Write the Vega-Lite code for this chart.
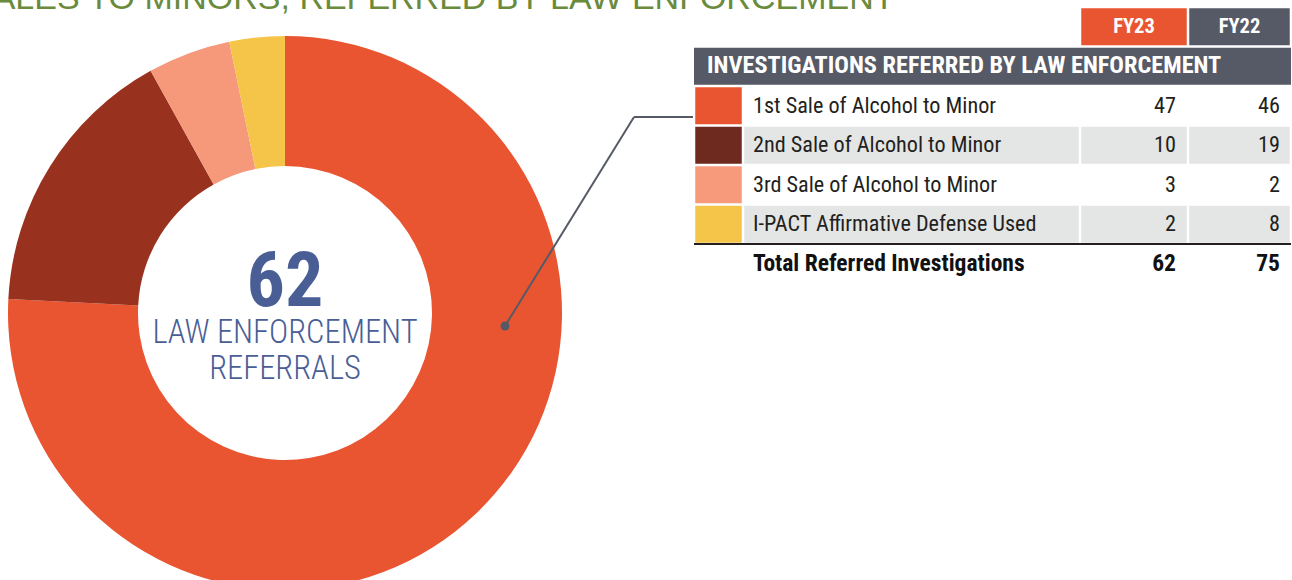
{
  "$schema": "https://vega.github.io/schema/vega-lite/v6.json",
  "padding": {"top": -19, "left": -30, "right": 1, "bottom": -38},
  "background": "white",
  "config": {"view": {"stroke": null}},
  "datasets": {
    "referrals": [
      {"category": "1st Sale of Alcohol to Minor", "fy23": 47, "fy22": 46},
      {"category": "2nd Sale of Alcohol to Minor", "fy23": 10, "fy22": 19},
      {"category": "3rd Sale of Alcohol to Minor", "fy23": 3, "fy22": 2},
      {"category": "I-PACT Affirmative Defense Used", "fy23": 2, "fy22": 8}
    ],
    "total": [
      {"category": "Total Referred Investigations", "fy23": 62, "fy22": 75}
    ],
    "heading": [
      {"category": "INVESTIGATIONS REFERRED BY LAW ENFORCEMENT"}
    ],
    "years": [
      {"category": "Fiscal year", "fy23": "FY23", "fy22": "FY22"}
    ]
  },
  "bounds": "flush",
  "spacing": 124,
  "resolve": {"scale": {"color": "independent", "fill": "independent"}},
  "hconcat": [
    {
      "width": 570,
      "height": 612,
      "layer": [
        {
          "data": {"name": "referrals"},
          "mark": {"type": "arc", "innerRadius": 147, "outerRadius": 277},
          "encoding": {
            "theta": {"field": "fy23", "type": "quantitative", "stack": true},
            "order": {"field": "category", "type": "nominal", "sort": "ascending"},
            "color": {
              "field": "category", "type": "nominal", "legend": null,
              "scale": {
                "domain": ["1st Sale of Alcohol to Minor", "2nd Sale of Alcohol to Minor", "3rd Sale of Alcohol to Minor", "I-PACT Affirmative Defense Used"],
                "range": ["#E95431", "#98321F", "#F5997A", "#F5C54A"]
              }
            }
          }
        },
        {
          "data": {"values": [{}]},
          "mark": {"type": "text", "align": "left", "baseline": "alphabetic", "font": "Liberation Sans", "fontSize": 34, "color": "#6A8A3C"},
          "encoding": {
            "x": {"datum": -1.137184, "type": "quantitative", "scale": {"domain": [-1.028881, 1.028881], "nice": false, "zero": false}, "axis": null},
            "y": {"datum": 1.097473, "type": "quantitative", "scale": {"domain": [-1.104693, 1.104693], "nice": false, "zero": false}, "axis": null},
            "text": {"value": "SALES TO MINORS, REFERRED BY LAW ENFORCEMENT"}
          }
        },
        {
          "data": {"values": [{}]},
          "mark": {"type": "rule", "color": "#565A66", "strokeWidth": 2},
          "encoding": {
            "x": {"datum": 0.794224, "type": "quantitative", "scale": {"domain": [-1.028881, 1.028881], "nice": false, "zero": false}, "axis": null},
            "y": {"datum": -0.046931, "type": "quantitative", "scale": {"domain": [-1.104693, 1.104693], "nice": false, "zero": false}, "axis": null},
            "x2": {"datum": 1.259928},
            "y2": {"datum": 0.707581}
          }
        },
        {
          "data": {"values": [{}]},
          "mark": {"type": "rule", "color": "#565A66", "strokeWidth": 2},
          "encoding": {
            "x": {"datum": 1.259928, "type": "quantitative", "scale": {"domain": [-1.028881, 1.028881], "nice": false, "zero": false}, "axis": null},
            "y": {"datum": 0.707581, "type": "quantitative", "scale": {"domain": [-1.104693, 1.104693], "nice": false, "zero": false}, "axis": null},
            "x2": {"datum": 1.472924},
            "y2": {"datum": 0.707581}
          }
        },
        {
          "data": {"values": [{}]},
          "mark": {"type": "point", "shape": "circle", "filled": true, "size": 80, "color": "#565A66", "opacity": 1},
          "encoding": {
            "x": {"datum": 0.794224, "type": "quantitative", "scale": {"domain": [-1.028881, 1.028881], "nice": false, "zero": false}, "axis": null},
            "y": {"datum": -0.046931, "type": "quantitative", "scale": {"domain": [-1.104693, 1.104693], "nice": false, "zero": false}, "axis": null}
          }
        },
        {
          "data": {"name": "total"},
          "mark": {"type": "text", "align": "center", "baseline": "alphabetic", "font": "Roboto Condensed, DejaVu Sans Condensed, Roboto, sans-serif", "fontWeight": "bold", "fontSize": 76, "color": "#4A5E96"},
          "encoding": {
            "x": {"datum": 0, "type": "quantitative", "scale": {"domain": [-1.028881, 1.028881], "nice": false, "zero": false}, "axis": null},
            "y": {"datum": 0.025271, "type": "quantitative", "scale": {"domain": [-1.104693, 1.104693], "nice": false, "zero": false}, "axis": null},
            "text": {"field": "fy23", "type": "quantitative"}
          }
        },
        {
          "data": {"values": [{}]},
          "mark": {"type": "text", "align": "center", "baseline": "alphabetic", "font": "Roboto Condensed, DejaVu Sans Condensed, Roboto, sans-serif", "fontWeight": 300, "fontSize": 32.5, "lineHeight": 36, "color": "#4A5E96"},
          "encoding": {
            "x": {"datum": 0, "type": "quantitative", "scale": {"domain": [-1.028881, 1.028881], "nice": false, "zero": false}, "axis": null},
            "y": {"datum": -0.109386, "type": "quantitative", "scale": {"domain": [-1.104693, 1.104693], "nice": false, "zero": false}, "axis": null},
            "text": {"value": ["LAW ENFORCEMENT", "REFERRALS"]}
          }
        }
      ]
    },
    {
      "bounds": "flush",
      "spacing": 0,
      "resolve": {"scale": {"color": "independent", "fill": "independent"}},
      "hconcat": [
        {
          "width": 49,
          "height": 276.5,
          "layer": [
            {
              "data": {"name": "heading"},
              "mark": {"type": "rect", "color": "#565A66", "height": {"band": 0.937}},
              "encoding": {
                "y": {"field": "category", "type": "nominal", "axis": null, "scale": {"domain": ["Fiscal year", "INVESTIGATIONS REFERRED BY LAW ENFORCEMENT", "1st Sale of Alcohol to Minor", "2nd Sale of Alcohol to Minor", "3rd Sale of Alcohol to Minor", "I-PACT Affirmative Defense Used", "Total Referred Investigations"], "paddingInner": 0, "paddingOuter": 0}},
                "x": {"datum": 0, "type": "quantitative", "scale": {"domain": [0, 1], "nice": false, "zero": false}, "axis": null},
                "x2": {"datum": 12.183673}
              }
            },
            {
              "data": {"name": "heading"},
              "mark": {"type": "text", "align": "left", "baseline": "middle", "dx": 13, "font": "Roboto Condensed, DejaVu Sans Condensed, Roboto, sans-serif", "fontWeight": "bold", "fontSize": 24.3, "color": "white"},
              "encoding": {
                "y": {"field": "category", "type": "nominal", "axis": null, "scale": {"domain": ["Fiscal year", "INVESTIGATIONS REFERRED BY LAW ENFORCEMENT", "1st Sale of Alcohol to Minor", "2nd Sale of Alcohol to Minor", "3rd Sale of Alcohol to Minor", "I-PACT Affirmative Defense Used", "Total Referred Investigations"], "paddingInner": 0, "paddingOuter": 0}},
                "x": {"datum": 0, "type": "quantitative", "scale": {"domain": [0, 1], "nice": false, "zero": false}, "axis": null},
                "text": {"field": "category"}
              }
            },
            {
              "data": {"name": "referrals"},
              "mark": {"type": "rect", "xOffset": 1.25, "x2Offset": -1.25, "height": {"band": 0.937}},
              "encoding": {
                "y": {"field": "category", "type": "nominal", "axis": null, "scale": {"domain": ["Fiscal year", "INVESTIGATIONS REFERRED BY LAW ENFORCEMENT", "1st Sale of Alcohol to Minor", "2nd Sale of Alcohol to Minor", "3rd Sale of Alcohol to Minor", "I-PACT Affirmative Defense Used", "Total Referred Investigations"], "paddingInner": 0, "paddingOuter": 0}},
                "x": {"datum": 0, "type": "quantitative", "scale": {"domain": [0, 1], "nice": false, "zero": false}, "axis": null},
                "x2": {"datum": 1},
                "fill": {
                  "field": "category", "type": "nominal", "legend": null,
                  "scale": {
                    "domain": ["1st Sale of Alcohol to Minor", "2nd Sale of Alcohol to Minor", "3rd Sale of Alcohol to Minor", "I-PACT Affirmative Defense Used"],
                    "range": ["#E95431", "#6E2A1E", "#F79A7C", "#F5C54A"]
                  }
                }
              }
            },
            {
              "data": {"name": "total"},
              "mark": {"type": "rule", "color": "#231F20", "strokeWidth": 2},
              "encoding": {
                "y": {"field": "category", "type": "nominal", "bandPosition": 0, "axis": null, "scale": {"domain": ["Fiscal year", "INVESTIGATIONS REFERRED BY LAW ENFORCEMENT", "1st Sale of Alcohol to Minor", "2nd Sale of Alcohol to Minor", "3rd Sale of Alcohol to Minor", "I-PACT Affirmative Defense Used", "Total Referred Investigations"], "paddingInner": 0, "paddingOuter": 0}},
                "x": {"datum": 0, "type": "quantitative", "scale": {"domain": [0, 1], "nice": false, "zero": false}, "axis": null},
                "x2": {"datum": 12.183673}
              }
            }
          ]
        },
        {
          "width": 337,
          "height": 276.5,
          "layer": [
            {
              "data": {"name": "referrals"},
              "mark": {"type": "rect", "xOffset": 1.25, "x2Offset": -1.25, "height": {"band": 0.937}},
              "encoding": {
                "y": {"field": "category", "type": "nominal", "axis": null, "scale": {"domain": ["Fiscal year", "INVESTIGATIONS REFERRED BY LAW ENFORCEMENT", "1st Sale of Alcohol to Minor", "2nd Sale of Alcohol to Minor", "3rd Sale of Alcohol to Minor", "I-PACT Affirmative Defense Used", "Total Referred Investigations"], "paddingInner": 0, "paddingOuter": 0}},
                "x": {"datum": 0, "type": "quantitative", "scale": {"domain": [0, 1], "nice": false, "zero": false}, "axis": null},
                "x2": {"datum": 1},
                "fill": {
                  "field": "category", "type": "nominal", "legend": null,
                  "scale": {
                    "domain": ["1st Sale of Alcohol to Minor", "2nd Sale of Alcohol to Minor", "3rd Sale of Alcohol to Minor", "I-PACT Affirmative Defense Used"],
                    "range": ["#FFFFFF", "#E4E5E5", "#FFFFFF", "#E4E5E5"]
                  }
                }
              }
            },
            {
              "data": {"name": "referrals"},
              "mark": {"type": "text", "align": "left", "baseline": "middle", "dx": 10, "font": "Roboto Condensed, DejaVu Sans Condensed, Roboto, sans-serif", "fontSize": 22.2, "color": "#231F20"},
              "encoding": {
                "y": {"field": "category", "type": "nominal", "axis": null, "scale": {"domain": ["Fiscal year", "INVESTIGATIONS REFERRED BY LAW ENFORCEMENT", "1st Sale of Alcohol to Minor", "2nd Sale of Alcohol to Minor", "3rd Sale of Alcohol to Minor", "I-PACT Affirmative Defense Used", "Total Referred Investigations"], "paddingInner": 0, "paddingOuter": 0}},
                "x": {"datum": 0, "type": "quantitative", "scale": {"domain": [0, 1], "nice": false, "zero": false}, "axis": null},
                "text": {"field": "category"}
              }
            },
            {
              "data": {"name": "total"},
              "mark": {"type": "text", "align": "left", "baseline": "middle", "dx": 10, "font": "Roboto Condensed, DejaVu Sans Condensed, Roboto, sans-serif", "fontWeight": "bold", "fontSize": 23.5, "color": "#111111"},
              "encoding": {
                "y": {"field": "category", "type": "nominal", "axis": null, "scale": {"domain": ["Fiscal year", "INVESTIGATIONS REFERRED BY LAW ENFORCEMENT", "1st Sale of Alcohol to Minor", "2nd Sale of Alcohol to Minor", "3rd Sale of Alcohol to Minor", "I-PACT Affirmative Defense Used", "Total Referred Investigations"], "paddingInner": 0, "paddingOuter": 0}},
                "x": {"datum": 0, "type": "quantitative", "scale": {"domain": [0, 1], "nice": false, "zero": false}, "axis": null},
                "text": {"field": "category"}
              }
            }
          ]
        },
        {
          "width": 108,
          "height": 276.5,
          "layer": [
            {
              "data": {"name": "years"},
              "mark": {"type": "rect", "color": "#E95431", "xOffset": 1.25, "x2Offset": -1.25, "height": {"band": 0.937}},
              "encoding": {
                "y": {"field": "category", "type": "nominal", "axis": null, "scale": {"domain": ["Fiscal year", "INVESTIGATIONS REFERRED BY LAW ENFORCEMENT", "1st Sale of Alcohol to Minor", "2nd Sale of Alcohol to Minor", "3rd Sale of Alcohol to Minor", "I-PACT Affirmative Defense Used", "Total Referred Investigations"], "paddingInner": 0, "paddingOuter": 0}},
                "x": {"datum": 0, "type": "quantitative", "scale": {"domain": [0, 1], "nice": false, "zero": false}, "axis": null},
                "x2": {"datum": 1}
              }
            },
            {
              "data": {"name": "years"},
              "mark": {"type": "text", "align": "center", "baseline": "middle", "font": "Roboto Condensed, DejaVu Sans Condensed, Roboto, sans-serif", "fontWeight": "bold", "fontSize": 20.5, "color": "white"},
              "encoding": {
                "y": {"field": "category", "type": "nominal", "axis": null, "scale": {"domain": ["Fiscal year", "INVESTIGATIONS REFERRED BY LAW ENFORCEMENT", "1st Sale of Alcohol to Minor", "2nd Sale of Alcohol to Minor", "3rd Sale of Alcohol to Minor", "I-PACT Affirmative Defense Used", "Total Referred Investigations"], "paddingInner": 0, "paddingOuter": 0}},
                "x": {"datum": 0.5, "type": "quantitative", "scale": {"domain": [0, 1], "nice": false, "zero": false}, "axis": null},
                "text": {"field": "fy23"}
              }
            },
            {
              "data": {"name": "referrals"},
              "mark": {"type": "rect", "xOffset": 1.25, "x2Offset": -1.25, "height": {"band": 0.937}},
              "encoding": {
                "y": {"field": "category", "type": "nominal", "axis": null, "scale": {"domain": ["Fiscal year", "INVESTIGATIONS REFERRED BY LAW ENFORCEMENT", "1st Sale of Alcohol to Minor", "2nd Sale of Alcohol to Minor", "3rd Sale of Alcohol to Minor", "I-PACT Affirmative Defense Used", "Total Referred Investigations"], "paddingInner": 0, "paddingOuter": 0}},
                "x": {"datum": 0, "type": "quantitative", "scale": {"domain": [0, 1], "nice": false, "zero": false}, "axis": null},
                "x2": {"datum": 1},
                "fill": {
                  "field": "category", "type": "nominal", "legend": null,
                  "scale": {
                    "domain": ["1st Sale of Alcohol to Minor", "2nd Sale of Alcohol to Minor", "3rd Sale of Alcohol to Minor", "I-PACT Affirmative Defense Used"],
                    "range": ["#FFFFFF", "#E4E5E5", "#FFFFFF", "#E4E5E5"]
                  }
                }
              }
            },
            {
              "data": {"name": "referrals"},
              "mark": {"type": "text", "align": "right", "baseline": "middle", "dx": -12, "font": "Roboto Condensed, DejaVu Sans Condensed, Roboto, sans-serif", "fontSize": 22.2, "color": "#231F20"},
              "encoding": {
                "y": {"field": "category", "type": "nominal", "axis": null, "scale": {"domain": ["Fiscal year", "INVESTIGATIONS REFERRED BY LAW ENFORCEMENT", "1st Sale of Alcohol to Minor", "2nd Sale of Alcohol to Minor", "3rd Sale of Alcohol to Minor", "I-PACT Affirmative Defense Used", "Total Referred Investigations"], "paddingInner": 0, "paddingOuter": 0}},
                "x": {"datum": 1, "type": "quantitative", "scale": {"domain": [0, 1], "nice": false, "zero": false}, "axis": null},
                "text": {"field": "fy23", "type": "quantitative"}
              }
            },
            {
              "data": {"name": "total"},
              "mark": {"type": "text", "align": "right", "baseline": "middle", "dx": -12, "font": "Roboto Condensed, DejaVu Sans Condensed, Roboto, sans-serif", "fontWeight": "bold", "fontSize": 23.5, "color": "#111111"},
              "encoding": {
                "y": {"field": "category", "type": "nominal", "axis": null, "scale": {"domain": ["Fiscal year", "INVESTIGATIONS REFERRED BY LAW ENFORCEMENT", "1st Sale of Alcohol to Minor", "2nd Sale of Alcohol to Minor", "3rd Sale of Alcohol to Minor", "I-PACT Affirmative Defense Used", "Total Referred Investigations"], "paddingInner": 0, "paddingOuter": 0}},
                "x": {"datum": 1, "type": "quantitative", "scale": {"domain": [0, 1], "nice": false, "zero": false}, "axis": null},
                "text": {"field": "fy23", "type": "quantitative"}
              }
            }
          ]
        },
        {
          "width": 103,
          "height": 276.5,
          "layer": [
            {
              "data": {"name": "years"},
              "mark": {"type": "rect", "color": "#565A66", "xOffset": 1.25, "x2Offset": -1.25, "height": {"band": 0.937}},
              "encoding": {
                "y": {"field": "category", "type": "nominal", "axis": null, "scale": {"domain": ["Fiscal year", "INVESTIGATIONS REFERRED BY LAW ENFORCEMENT", "1st Sale of Alcohol to Minor", "2nd Sale of Alcohol to Minor", "3rd Sale of Alcohol to Minor", "I-PACT Affirmative Defense Used", "Total Referred Investigations"], "paddingInner": 0, "paddingOuter": 0}},
                "x": {"datum": 0, "type": "quantitative", "scale": {"domain": [0, 1], "nice": false, "zero": false}, "axis": null},
                "x2": {"datum": 1}
              }
            },
            {
              "data": {"name": "years"},
              "mark": {"type": "text", "align": "center", "baseline": "middle", "font": "Roboto Condensed, DejaVu Sans Condensed, Roboto, sans-serif", "fontWeight": "bold", "fontSize": 20.5, "color": "white"},
              "encoding": {
                "y": {"field": "category", "type": "nominal", "axis": null, "scale": {"domain": ["Fiscal year", "INVESTIGATIONS REFERRED BY LAW ENFORCEMENT", "1st Sale of Alcohol to Minor", "2nd Sale of Alcohol to Minor", "3rd Sale of Alcohol to Minor", "I-PACT Affirmative Defense Used", "Total Referred Investigations"], "paddingInner": 0, "paddingOuter": 0}},
                "x": {"datum": 0.5, "type": "quantitative", "scale": {"domain": [0, 1], "nice": false, "zero": false}, "axis": null},
                "text": {"field": "fy22"}
              }
            },
            {
              "data": {"name": "referrals"},
              "mark": {"type": "rect", "xOffset": 1.25, "x2Offset": -1.25, "height": {"band": 0.937}},
              "encoding": {
                "y": {"field": "category", "type": "nominal", "axis": null, "scale": {"domain": ["Fiscal year", "INVESTIGATIONS REFERRED BY LAW ENFORCEMENT", "1st Sale of Alcohol to Minor", "2nd Sale of Alcohol to Minor", "3rd Sale of Alcohol to Minor", "I-PACT Affirmative Defense Used", "Total Referred Investigations"], "paddingInner": 0, "paddingOuter": 0}},
                "x": {"datum": 0, "type": "quantitative", "scale": {"domain": [0, 1], "nice": false, "zero": false}, "axis": null},
                "x2": {"datum": 1},
                "fill": {
                  "field": "category", "type": "nominal", "legend": null,
                  "scale": {
                    "domain": ["1st Sale of Alcohol to Minor", "2nd Sale of Alcohol to Minor", "3rd Sale of Alcohol to Minor", "I-PACT Affirmative Defense Used"],
                    "range": ["#FFFFFF", "#E4E5E5", "#FFFFFF", "#E4E5E5"]
                  }
                }
              }
            },
            {
              "data": {"name": "referrals"},
              "mark": {"type": "text", "align": "right", "baseline": "middle", "dx": -11, "font": "Roboto Condensed, DejaVu Sans Condensed, Roboto, sans-serif", "fontSize": 22.2, "color": "#231F20"},
              "encoding": {
                "y": {"field": "category", "type": "nominal", "axis": null, "scale": {"domain": ["Fiscal year", "INVESTIGATIONS REFERRED BY LAW ENFORCEMENT", "1st Sale of Alcohol to Minor", "2nd Sale of Alcohol to Minor", "3rd Sale of Alcohol to Minor", "I-PACT Affirmative Defense Used", "Total Referred Investigations"], "paddingInner": 0, "paddingOuter": 0}},
                "x": {"datum": 1, "type": "quantitative", "scale": {"domain": [0, 1], "nice": false, "zero": false}, "axis": null},
                "text": {"field": "fy22", "type": "quantitative"}
              }
            },
            {
              "data": {"name": "total"},
              "mark": {"type": "text", "align": "right", "baseline": "middle", "dx": -11, "font": "Roboto Condensed, DejaVu Sans Condensed, Roboto, sans-serif", "fontWeight": "bold", "fontSize": 23.5, "color": "#111111"},
              "encoding": {
                "y": {"field": "category", "type": "nominal", "axis": null, "scale": {"domain": ["Fiscal year", "INVESTIGATIONS REFERRED BY LAW ENFORCEMENT", "1st Sale of Alcohol to Minor", "2nd Sale of Alcohol to Minor", "3rd Sale of Alcohol to Minor", "I-PACT Affirmative Defense Used", "Total Referred Investigations"], "paddingInner": 0, "paddingOuter": 0}},
                "x": {"datum": 1, "type": "quantitative", "scale": {"domain": [0, 1], "nice": false, "zero": false}, "axis": null},
                "text": {"field": "fy22", "type": "quantitative"}
              }
            }
          ]
        }
      ]
    }
  ]
}
